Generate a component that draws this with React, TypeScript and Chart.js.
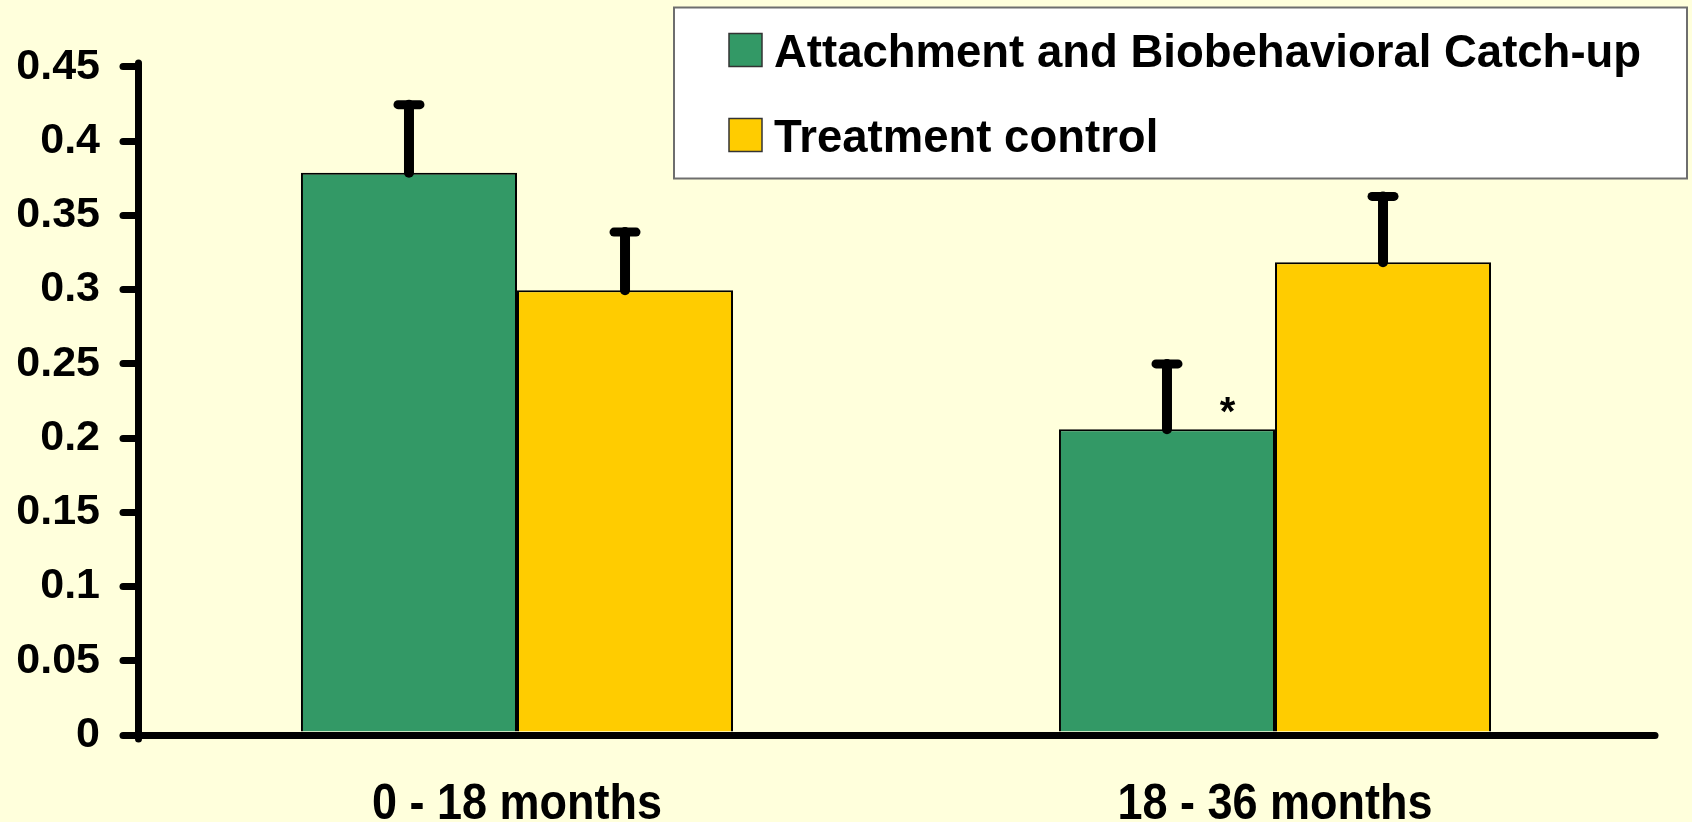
import React, { useEffect, useRef } from 'react';
import { Chart, registerables } from 'chart.js';

Chart.register(...registerables);

// ---- Data ----
const categories = ['0 - 18 months', '18 - 36 months'];
const seriesNames = ['Attachment and Biobehavioral Catch-up', 'Treatment control'];
const abcValues = [0.3787, 0.2059];
const controlValues = [0.2995, 0.3184];
const abcErrorTop = [0.4245, 0.2499];
const controlErrorTop = [0.3387, 0.3627];
const yTickLabels = ['0', '0.05', '0.1', '0.15', '0.2', '0.25', '0.3', '0.35', '0.4', '0.45'];
const significanceMarks = [{ dataset: 0, index: 1, text: '*' }];

const FONT = "'Liberation Sans', Arial, sans-serif";
const BG = '#FFFFDC';
const GREEN = '#339966';
const YELLOW = '#FFCC00';

const backgroundPlugin = {
  id: 'bg',
  beforeDraw(chart: any) {
    const ctx = chart.ctx;
    ctx.save();
    ctx.fillStyle = BG;
    ctx.fillRect(0, 0, chart.width, chart.height);
    ctx.restore();
    ctx.lineCap = 'round';
  },
};

// Category labels drawn from the x scale's own labels and tick pixels,
// slightly stretched vertically like the original slide.
const xLabelPlugin = {
  id: 'xLabels',
  afterDraw(chart: any) {
    const ctx = chart.ctx;
    const xs = chart.scales.x;
    ctx.save();
    ctx.fillStyle = '#000';
    ctx.font = `bold 45px ${FONT}`;
    ctx.textAlign = 'center';
    ctx.textBaseline = 'alphabetic';
    xs.ticks.forEach((t: any, i: number) => {
      const x = xs.getPixelForTick(i);
      const label = xs.getLabelForValue(t.value);
      ctx.save();
      ctx.translate(x, 819);
      ctx.scale(1, 1.12);
      ctx.fillText(label, 0, 0);
      ctx.restore();
    });
    ctx.restore();
  },
};

const errorBarPlugin = {
  id: 'errorBars',
  afterDatasetsDraw(chart: any) {
    const ctx = chart.ctx;
    const yScale = chart.scales.y;
    chart.data.datasets.forEach((ds: any, di: number) => {
      const meta = chart.getDatasetMeta(di);
      meta.data.forEach((bar: any, i: number) => {
        const x = bar.x;
        const yb = bar.y;
        const yt = yScale.getPixelForValue(ds.errorTop[i]);
        ctx.save();
        ctx.strokeStyle = '#000';
        ctx.lineCap = 'round';
        ctx.lineWidth = 10;
        ctx.beginPath();
        ctx.moveTo(x, yb);
        ctx.lineTo(x, yt);
        ctx.stroke();
        ctx.lineWidth = 9;
        ctx.beginPath();
        ctx.moveTo(x - 11, yt);
        ctx.lineTo(x + 11, yt);
        ctx.stroke();
        ctx.restore();
      });
    });
  },
};

const significancePlugin = {
  id: 'signif',
  afterDatasetsDraw(chart: any) {
    const ctx = chart.ctx;
    significanceMarks.forEach((m) => {
      const bar: any = chart.getDatasetMeta(m.dataset).data[m.index];
      if (!bar) return;
      ctx.save();
      ctx.fillStyle = '#000';
      ctx.font = `bold 40px ${FONT}`;
      ctx.textAlign = 'center';
      ctx.textBaseline = 'alphabetic';
      ctx.fillText(m.text, bar.x + bar.width * 0.28, bar.y - 4);
      ctx.restore();
    });
  },
};

const legendPlugin = {
  id: 'customLegend',
  afterDraw(chart: any) {
    const ctx = chart.ctx;
    const box = { x: 674, y: 7.5, w: 1013, h: 171 };
    ctx.save();
    ctx.fillStyle = '#FFFFFF';
    ctx.fillRect(box.x, box.y, box.w, box.h);
    ctx.strokeStyle = '#6E6E6E';
    ctx.lineWidth = 2;
    ctx.lineCap = 'butt';
    ctx.strokeRect(box.x, box.y, box.w, box.h);
    ctx.font = `bold 45.5px ${FONT}`;
    ctx.textAlign = 'left';
    ctx.textBaseline = 'alphabetic';
    chart.data.datasets.forEach((ds: any, i: number) => {
      const sy = 33.5 + i * 85;
      ctx.fillStyle = ds.backgroundColor;
      ctx.fillRect(729, sy, 33, 33);
      ctx.strokeStyle = '#333';
      ctx.lineWidth = 1.5;
      ctx.strokeRect(729, sy, 33, 33);
      ctx.fillStyle = '#000';
      ctx.fillText(ds.label, 774, sy + 33);
    });
    ctx.restore();
  },
};

export default function App() {
  const ref = useRef<HTMLCanvasElement>(null);

  useEffect(() => {
    const chart = new Chart(ref.current as HTMLCanvasElement, {
      type: 'bar',
      data: {
        labels: categories,
        datasets: [
          {
            label: seriesNames[0],
            data: abcValues,
            backgroundColor: GREEN,
            borderColor: '#000',
            borderWidth: 2,
            errorTop: abcErrorTop,
          } as any,
          {
            label: seriesNames[1],
            data: controlValues,
            backgroundColor: YELLOW,
            borderColor: '#000',
            borderWidth: 2,
            errorTop: controlErrorTop,
          } as any,
        ],
      },
      options: {
        responsive: false,
        maintainAspectRatio: false,
        devicePixelRatio: 1,
        animation: false,
        datasets: { bar: { categoryPercentage: 0.57, barPercentage: 1 } },
        layout: { padding: { left: 0, top: 66.8, right: 38, bottom: 0 } },
        plugins: {
          legend: { display: false },
          tooltip: { enabled: false },
        },
        scales: {
          x: {
            grid: { display: false, drawTicks: false },
            border: { display: true, color: '#000', width: 7 },
            ticks: {
              display: false,
              font: { family: FONT, size: 45, weight: 'bold' },
            },
            afterFit: (s: any) => {
              s.height = 87;
            },
          },
          y: {
            min: 0,
            max: 0.45,
            grid: {
              drawOnChartArea: false,
              drawTicks: true,
              tickLength: 15,
              lineWidth: 7,
              color: '#000',
            },
            border: { display: true, color: '#000', width: 7 },
            ticks: {
              stepSize: 0.05,
              color: '#000',
              padding: 23,
              font: { family: FONT, size: 43, weight: 'bold' },
              callback: (v: any) => yTickLabels[Math.round(Number(v) / 0.05)],
            },
            afterFit: (s: any) => {
              s.width = 138;
            },
          },
        },
      } as any,
      plugins: [backgroundPlugin, errorBarPlugin, significancePlugin, xLabelPlugin, legendPlugin],
    });
    return () => chart.destroy();
  }, []);

  return (
    <div style={{ position: 'absolute', left: 0, top: 0, width: 1692, height: 822, background: BG }}>
      <canvas ref={ref} width={1692} height={822} style={{ display: 'block', width: 1692, height: 822 }} />
    </div>
  );
}
